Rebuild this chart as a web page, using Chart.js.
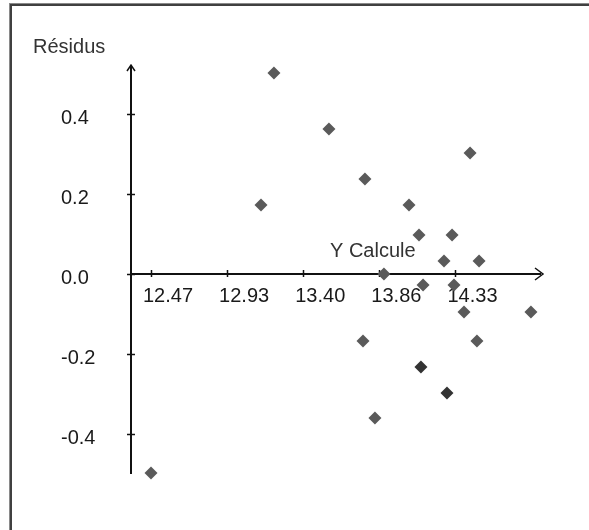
<!DOCTYPE html>
<html><head><meta charset="utf-8">
<script src="https://cdn.jsdelivr.net/npm/chart.js@4/dist/chart.umd.min.js"></script>
<style>html,body{margin:0;padding:0;background:#fff}canvas{display:block}</style>
</head><body>
<canvas id="c" width="589" height="530"></canvas>
<script>
// ---- data ----
const yCalcule = [12.470, 13.142, 13.221, 13.557, 13.765, 13.777, 13.838, 13.893, 14.046, 14.107, 14.119,
                  14.132, 14.260, 14.278, 14.309, 14.321, 14.382, 14.419, 14.461, 14.474, 14.791];
const residus  = [-0.4975, 0.1725, 0.5025, 0.3625, -0.1675, 0.2375, -0.360, 0.000, 0.1725, 0.0975, -0.2325,
                  -0.0275, 0.0325, -0.2975, 0.0975, -0.0275, -0.095, 0.3025, -0.1675, 0.0325, -0.095];
const darkPoints = [10, 13];
const xTickValues = [12.47, 12.935, 13.40, 13.865, 14.33];
const xTickLabels = ['12.47', '12.93', '13.40', '13.86', '14.33'];
const yTickValues = [0.4, 0.2, 0.0, -0.2, -0.4];
const yTickLabels = ['0.4', '0.2', '0.0', '-0.2', '-0.4'];
const xTitle = 'Y Calcule';
const yTitle = 'Résidus';

// ---- styles ----
const FONT = '"Liberation Sans", Arial, sans-serif';
const FSIZE = 20;
const TEXT = '#1a1a1a';
const AXIS = '#111';

const axesPlugin = {
  id: 'axesPlugin',
  beforeDraw(chart) {
    const ctx = chart.ctx;
    ctx.save();
    ctx.fillStyle = '#fff';
    ctx.fillRect(0, 0, chart.width, chart.height);
    // frame (top + left edges visible)
    ctx.fillStyle = '#8a8a8a';
    ctx.fillRect(9, 3, chart.width - 9, 1);
    ctx.fillRect(9, 3, 1, chart.height - 3);
    ctx.fillStyle = '#404040';
    ctx.fillRect(10, 4, chart.width - 10, 2);
    ctx.fillRect(10, 4, 2, chart.height - 4);
    ctx.restore();
  },
  beforeDatasetsDraw(chart) {
    const {ctx, scales: {x, y}} = chart;
    const ax = Math.round(x.left) + 1;
    const ay = Math.round(y.getPixelForValue(0));
    ctx.save();
    ctx.strokeStyle = AXIS;
    ctx.lineWidth = 2;
    ctx.beginPath();
    // y axis
    ctx.moveTo(ax, y.top);
    ctx.lineTo(ax, y.bottom);
    // x axis
    ctx.moveTo(x.left, ay);
    ctx.lineTo(x.right - 1, ay);
    ctx.stroke();
    // ticks
    ctx.lineWidth = 1.5;
    ctx.beginPath();
    yTickValues.forEach(v => {
      const p = Math.round(y.getPixelForValue(v)) + 0.5;
      ctx.moveTo(ax - 4, p); ctx.lineTo(ax + 4, p);
    });
    xTickValues.forEach(v => {
      const p = Math.round(x.getPixelForValue(v)) + 0.5;
      ctx.moveTo(p, ay - 4); ctx.lineTo(p, ay + 3);
    });
    ctx.stroke();
    // arrow heads
    ctx.lineWidth = 1.5;
    ctx.beginPath();
    ctx.moveTo(ax - 4, y.top + 5); ctx.lineTo(ax, y.top - 1); ctx.lineTo(ax + 4, y.top + 5);
    ctx.moveTo(x.right - 7, ay - 6); ctx.lineTo(x.right + 1, ay); ctx.lineTo(x.right - 7, ay + 6);
    ctx.stroke();
    // titles
    ctx.fillStyle = '#333';
    ctx.font = FSIZE + 'px ' + FONT;
    ctx.textBaseline = 'alphabetic';
    ctx.textAlign = 'left';
    ctx.fillText(yTitle, x.left - 97, y.top - 13);
    ctx.fillText(xTitle, x.right - 212, ay - 17);
    ctx.restore();
  }
};

new Chart(document.getElementById('c'), {
  type: 'scatter',
  data: {
    datasets: [{
      data: yCalcule.map((v, i) => ({x: v, y: residus[i]})),
      pointStyle: 'rectRot',
      pointRadius: 6.5,
      pointHoverRadius: 6.5,
      pointBorderWidth: 0,
      pointBorderColor: 'rgba(0,0,0,0)',
      pointBackgroundColor: c => darkPoints.includes(c.dataIndex) ? '#333333' : '#5a5a5a',
      clip: false
    }]
  },
  options: {
    responsive: false,
    animation: false,
    devicePixelRatio: 1,
    layout: {padding: {left: 61, right: 47, top: 66, bottom: 56}},
    plugins: {legend: {display: false}, tooltip: {enabled: false}},
    scales: {
      x: {
        type: 'linear',
        min: 12.3417, max: 14.8585,
        position: {y: 0},
        afterBuildTicks: s => { s.ticks = xTickValues.map(v => ({value: v})); },
        ticks: {
          callback: (v, i) => xTickLabels[i],
          labelOffset: 17, padding: 10,
          autoSkip: false, maxRotation: 0, minRotation: 0,
          color: TEXT, font: {family: FONT, size: FSIZE}
        },
        grid: {display: false, drawTicks: false},
        border: {display: false}
      },
      y: {
        type: 'linear',
        min: -0.5, max: 0.52,
        position: 'left',
        afterBuildTicks: s => { s.ticks = yTickValues.map(v => ({value: v})); },
        afterFit: s => { s.width = 69; },
        ticks: {
          callback: (v, i) => yTickLabels[i],
          crossAlign: 'far', labelOffset: 4, padding: 0,
          autoSkip: false,
          color: TEXT, font: {family: FONT, size: FSIZE}
        },
        grid: {display: false, drawTicks: false},
        border: {display: false}
      }
    }
  },
  plugins: [axesPlugin]
});
</script>
</body></html>
